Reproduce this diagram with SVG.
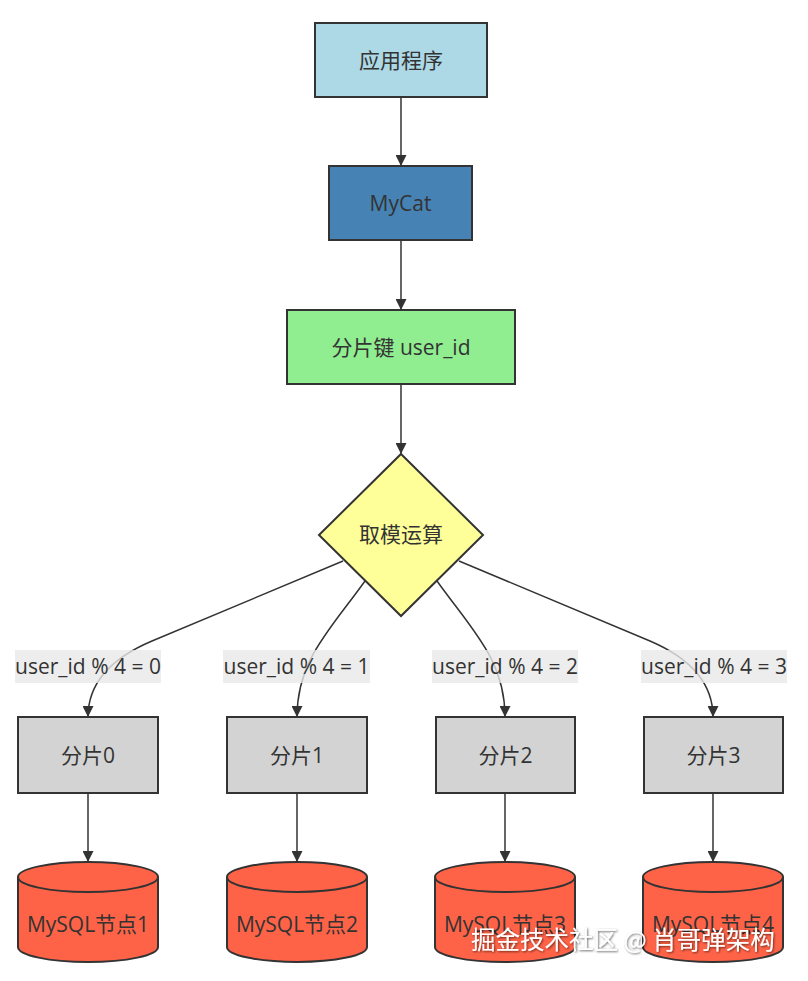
<svg xmlns="http://www.w3.org/2000/svg" width="808" height="981" viewBox="0 0 808 981">
<style>
  .node rect, .node polygon, .node path { stroke:#333; stroke-width:2; }
  .t { font-family:"Open Sans","Noto Sans CJK SC",sans-serif; font-size:21px; fill:#333; text-anchor:middle; dominant-baseline:central; }
  .edge { fill:none; stroke:#333; stroke-width:1.5; marker-end:url(#arrow); }
  .lbg { fill:#e8e8e8; fill-opacity:0.8; }
  .shard rect { fill:#d3d3d3; }
  .db path { fill:#ff6347; }
  .wm { font-family:"Noto Sans CJK SC",sans-serif; font-size:24.5px; fill:#fff; text-anchor:start; }
</style>
<defs>
  <marker id="arrow" viewBox="0 0 10 10" refX="10" refY="5" markerUnits="userSpaceOnUse" markerWidth="11" markerHeight="11" orient="auto">
    <path d="M0,0 L10,5 L0,10 z" fill="#333"/>
  </marker>
  <filter id="sh" x="-5%" y="-30%" width="110%" height="160%">
    <feDropShadow dx="1" dy="1" stdDeviation="1" flood-color="#000" flood-opacity="0.6"/>
  </filter>
</defs>
<rect width="808" height="981" fill="#fff"/>

<g id="connectors">
  <path class="edge" d="M401,97 L401,166"/>
  <path class="edge" d="M401,240 L401,310"/>
  <path class="edge" d="M401,384 L401,454"/>
  <path class="edge" d="M343,561 L152,641 Q88,668 88,717"/>
  <path class="edge" d="M365,581 C330,630 297,660 297,717"/>
  <path class="edge" d="M437,581 C472,630 505,660 505,717"/>
  <path class="edge" d="M459,561 L650,641 Q713,668 713,717"/>
  <path class="edge" d="M88,793 L88,862"/>
  <path class="edge" d="M297,793 L297,862"/>
  <path class="edge" d="M505,793 L505,862"/>
  <path class="edge" d="M713,793 L713,862"/>
  <g id="edge-labels">
    <rect class="lbg" x="15" y="650" width="146" height="33"/>
    <text class="t" x="88" y="666">user_id % 4 = 0</text>
    <rect class="lbg" x="223" y="650" width="147" height="33"/>
    <text class="t" x="296.5" y="666">user_id % 4 = 1</text>
    <rect class="lbg" x="432" y="650" width="146" height="33"/>
    <text class="t" x="505" y="666">user_id % 4 = 2</text>
    <rect class="lbg" x="641" y="650" width="146" height="33"/>
    <text class="t" x="714" y="666">user_id % 4 = 3</text>
  </g>
</g>

<g id="app" class="node">
  <rect x="315" y="23" width="172" height="74" fill="#add8e6"/>
  <text class="t" x="401" y="60">应用程序</text>
</g>
<g id="mycat" class="node">
  <rect x="329" y="166" width="143" height="74" fill="#4682b4"/>
  <text class="t" x="400.5" y="203">MyCat</text>
</g>
<g id="shardkey" class="node">
  <rect x="287" y="310" width="228" height="74" fill="#90ee90"/>
  <text class="t" x="401" y="347">分片键 user_id</text>
</g>
<g id="mod" class="node">
  <polygon points="401,454 483,535 401,616 319,535" fill="#ffff99"/>
  <text class="t" x="401" y="534">取模运算</text>
</g>

<g id="shard0" class="node shard">
  <rect x="18" y="717" width="140" height="76"/>
  <text class="t" x="88" y="755">分片0</text>
</g>
<g id="shard1" class="node shard">
  <rect x="227" y="717" width="140" height="76"/>
  <text class="t" x="297" y="755">分片1</text>
</g>
<g id="shard2" class="node shard">
  <rect x="436" y="717" width="139" height="76"/>
  <text class="t" x="505.5" y="755">分片2</text>
</g>
<g id="shard3" class="node shard">
  <rect x="644" y="717" width="139" height="76"/>
  <text class="t" x="713.5" y="755">分片3</text>
</g>

<g id="db1" class="node db">
  <path d="M18,877 a70,15 0 0 0 140,0 a70,15 0 0 0 -140,0 l0,70 a70,15 0 0 0 140,0 l0,-70"/>
  <text class="t" x="88" y="924">MySQL节点1</text>
</g>
<g id="db2" class="node db">
  <path d="M227,877 a70,15 0 0 0 140,0 a70,15 0 0 0 -140,0 l0,70 a70,15 0 0 0 140,0 l0,-70"/>
  <text class="t" x="297" y="924">MySQL节点2</text>
</g>
<g id="db3" class="node db">
  <path d="M435,877 a70,15 0 0 0 140,0 a70,15 0 0 0 -140,0 l0,70 a70,15 0 0 0 140,0 l0,-70"/>
  <text class="t" x="505" y="924">MySQL节点3</text>
</g>
<g id="db4" class="node db">
  <path d="M643,877 a70,15 0 0 0 140,0 a70,15 0 0 0 -140,0 l0,70 a70,15 0 0 0 140,0 l0,-70"/>
  <text class="t" x="713" y="924">MySQL节点4</text>
</g>

<text class="wm" x="471" y="949" filter="url(#sh)">掘金技术社区 @ 肖哥弹架构</text>
</svg>
